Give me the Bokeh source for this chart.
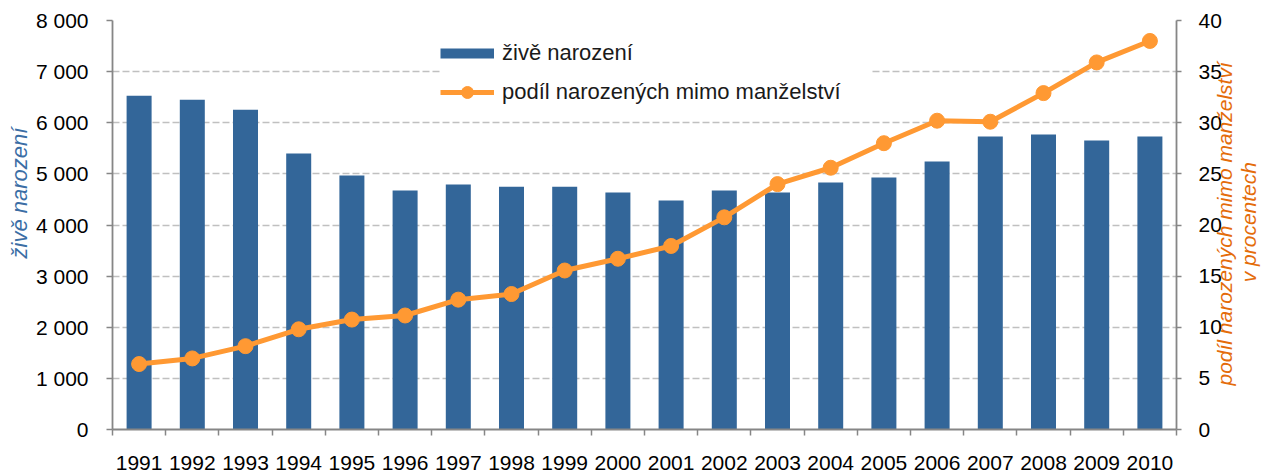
import math
from bokeh.plotting import figure
from bokeh.models import (ColumnDataSource, Range1d, LinearAxis, FixedTicker,
                          Legend, LegendItem, Title)
from bokeh.embed import file_html
from bokeh.resources import INLINE

# ---- data -------------------------------------------------------------
years = ["1991", "1992", "1993", "1994", "1995", "1996", "1997", "1998", "1999", "2000",
         "2001", "2002", "2003", "2004", "2005", "2006", "2007", "2008", "2009", "2010"]
births = [6530, 6450, 6255, 5400, 4970, 4675, 4790, 4750, 4750, 4635,
          4480, 4675, 4635, 4830, 4930, 5240, 5730, 5770, 5655, 5730]
share_outside = [6.4, 6.95, 8.15, 9.8, 10.75, 11.15, 12.7, 13.25, 15.55, 16.7,
                 17.95, 20.75, 24.0, 25.6, 28.0, 30.2, 30.1, 32.9, 35.9, 38.0]
left_ticks = [0, 1000, 2000, 3000, 4000, 5000, 6000, 7000, 8000]
right_ticks = [0, 5, 10, 15, 20, 25, 30, 35, 40]

label_births = "živě narození"
label_share = "podíl narozených mimo manželství"
right_title_line1 = "podíl narozených mimo manželství"
right_title_line2 = "v procentech"

# ---- styling ----------------------------------------------------------
FONT = "Liberation Sans"
BLUE = "#336699"
ORANGE = "#FF9933"
TITLE_ORANGE = "#E46C0A"
AXIS = "#868686"
GRID = "#C0C0C0"

n = len(years)
xs = [i + 0.5 for i in range(n)]
src = ColumnDataSource(dict(x=xs, births=births, share=share_outside))

p = figure(width=1274, height=475, x_range=Range1d(0, n), y_range=Range1d(0, 8000),
           output_backend="svg", toolbar_location=None,
           min_border_left=112, min_border_right=93, min_border_top=20, min_border_bottom=46)
p.outline_line_color = None
p.background_fill_color = "white"
p.extra_y_ranges = {"pct": Range1d(0, 40)}

# grid
p.xgrid.visible = False
p.ygrid.ticker = FixedTicker(ticks=left_ticks)
p.ygrid.grid_line_color = GRID
p.ygrid.grid_line_dash = "7 3"
p.ygrid.grid_line_width = 1.6

# x axis (labels centred, ticks at category boundaries)
xa = p.xaxis[0]
xa.ticker = FixedTicker(ticks=xs, minor_ticks=list(range(n + 1)))
xa.major_label_overrides = {x: y for x, y in zip(xs, years)}
xa.major_tick_out = 0
xa.major_tick_in = 0
xa.minor_tick_out = 6
xa.minor_tick_in = 0
xa.minor_tick_line_color = AXIS
xa.minor_tick_line_width = 1.5
xa.axis_line_color = AXIS
xa.axis_line_width = 1.8
xa.major_label_standoff = 20
xa.major_label_text_font = FONT
xa.major_label_text_font_size = "21px"
xa.major_label_text_color = "#000000"

# left axis
ya = p.yaxis[0]
ya.ticker = FixedTicker(ticks=left_ticks)
ya.major_label_overrides = {t: f"{t:,}".replace(",", " ") for t in left_ticks}
ya.major_tick_out = 6
ya.major_tick_in = 0
ya.minor_tick_out = 0
ya.minor_tick_in = 0
ya.major_tick_line_color = AXIS
ya.major_tick_line_width = 1.5
ya.axis_line_color = AXIS
ya.axis_line_width = 1.8
ya.major_label_standoff = 18
ya.major_label_text_font = FONT
ya.major_label_text_font_size = "21px"
ya.major_label_text_color = "#000000"

# left axis title (reads bottom to top, starting above the frame bottom)
p.add_layout(Title(text=label_births, align="left", offset=171, standoff=2,
                   text_font=FONT, text_font_style="italic", text_font_size="22px",
                   text_color="#3B6EA5"), "left")

# right axis
ra = LinearAxis(y_range_name="pct", ticker=FixedTicker(ticks=right_ticks))
ra.major_tick_out = 5
ra.major_tick_in = 0
ra.minor_tick_out = 0
ra.minor_tick_in = 0
ra.major_tick_line_color = AXIS
ra.major_tick_line_width = 1.5
ra.axis_line_color = AXIS
ra.axis_line_width = 1.8
ra.major_label_standoff = 17
ra.major_label_text_font = FONT
ra.major_label_text_font_size = "21px"
ra.major_label_text_color = "#000000"
p.add_layout(ra, "right")

# right axis title: two rotated lines, each drawn as the single label of a bare axis,
# anchored at the line's lower end (value on the percent scale) and reading upward
def title_axis(text, start_value, standoff):
    ax = LinearAxis(y_range_name="pct", ticker=FixedTicker(ticks=[start_value]))
    ax.major_label_overrides = {start_value: text}
    ax.major_label_orientation = math.pi / 2
    ax.major_label_standoff = standoff
    ax.major_label_text_font = FONT
    ax.major_label_text_font_style = "italic"
    ax.major_label_text_font_size = "21px"
    ax.major_label_text_color = TITLE_ORANGE
    ax.axis_line_color = None
    ax.major_tick_line_color = None
    ax.minor_tick_line_color = None
    ax.major_tick_out = 0
    ax.major_tick_in = 0
    ax.minor_tick_out = 0
    ax.minor_tick_in = 0
    return ax

p.add_layout(title_axis(right_title_line1, 4.3, 0), "right")
p.add_layout(title_axis(right_title_line2, 14.4, -2), "right")

# glyphs
bars = p.vbar(x="x", top="births", width=0.47, source=src,
              fill_color=BLUE, line_color=None)
line = p.line(x="x", y="share", source=src, y_range_name="pct",
              line_color=ORANGE, line_width=5, line_join="round")
dots = p.scatter(x="x", y="share", source=src, y_range_name="pct",
                 size=15, fill_color=ORANGE, line_color=ORANGE)

# legend (bar swatch drawn as a thick line so that the dot can stay large)
swatch = p.line(x=[float("nan")], y=[float("nan")], line_color=BLUE, line_width=10)
legend = Legend(items=[LegendItem(label=label_births, renderers=[swatch]),
                       LegendItem(label=label_share, renderers=[line, dots])],
                location=(328, 322), orientation="vertical",
                glyph_width=54, glyph_height=30, spacing=9, padding=10, margin=0,
                label_standoff=8, label_width=370, label_text_font=FONT,
                label_text_font_size="22px",
                label_text_color="#1A1A1A", border_line_color=None,
                background_fill_color="white", background_fill_alpha=1.0)
p.add_layout(legend, "center")

open("out.html", "w").write(file_html(p, INLINE))
